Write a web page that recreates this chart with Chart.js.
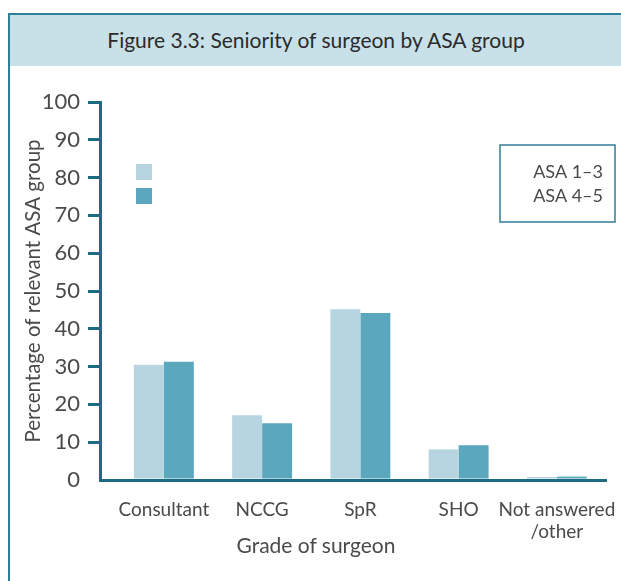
<!DOCTYPE html>
<html>
<head>
<meta charset="utf-8">
<script src="https://cdn.jsdelivr.net/npm/chart.js@4.4.1/dist/chart.umd.min.js"></script>
<style>
  html, body { margin: 0; padding: 0; background: #fff; }
  body { width: 621px; height: 581px; position: relative; overflow: hidden; font-family: Lato, "Open Sans", sans-serif; }
  .frame { position: absolute; left: 8px; top: 13px; width: 640px; height: 600px; border-left: 2px solid #2f7f96; }
  .title-band { position: absolute; left: 8px; top: 13px; width: 640px; height: 51px; background: #c8e0e7; border-top: 2px solid #2f7f96; border-left: 2px solid #2f7f96; }
  .title { position: absolute; left: 0; top: 27px; width: 632px; text-align: center; font-size: 21px; color: #2b2b2b; }
  .xtitle { position: absolute; left: 0; top: 532px; width: 632px; text-align: center; font-size: 21px; color: #4a4a4a; }
  #wrap { position: absolute; left: 0; top: 0; width: 621px; height: 581px; }
</style>
</head>
<body>
<div class="frame"></div>
<div class="title-band"></div>
<div class="title">Figure 3.3: Seniority of surgeon by ASA group</div>
<div id="wrap"><canvas id="chart"></canvas></div>
<div class="xtitle">Grade of surgeon</div>
<script>
// data
const categories = ['Consultant', 'NCCG', 'SpR', 'SHO', ['Not answered', '/other']];
const seriesNames = ['ASA 1\u20133', 'ASA 4\u20135'];
const asa13 = [30.5, 17.1, 45.2, 8.1, 0.8];
const asa45 = [31.3, 15.0, 44.2, 9.2, 0.9];
const yTicks = [0, 10, 20, 30, 40, 50, 60, 70, 80, 90, 100];

const lightBlue = '#b6d5e0';
const darkBlue = '#5ba7bd';
const axisColor = '#1b6b82';
const textColor = '#4a4a4a';

// legend as in the original: squares sit apart from the boxed labels
const oddLegend = {
    id: 'oddLegend',
    afterDraw(chart) {
        const { ctx, chartArea } = chart;
        const ds = chart.data.datasets;
        ctx.save();
        // boxed labels on the right
        const bx = chartArea.right - 106, by = chartArea.top + 43, bw = 115, bh = 77;
        ctx.strokeStyle = '#2f7f96';
        ctx.lineWidth = 1.5;
        ctx.strokeRect(bx, by, bw, bh);
        ctx.fillStyle = textColor;
        ctx.font = '18px Lato, "Open Sans", sans-serif';
        ctx.textAlign = 'right';
        ctx.textBaseline = 'middle';
        ds.forEach((d, i) => {
            ctx.fillText(d.label, bx + bw - 12, by + 27 + i * 24);
        });
        // colour squares near the top left of the plot
        ds.forEach((d, i) => {
            ctx.fillStyle = d.backgroundColor;
            ctx.fillRect(chartArea.left + 36, chartArea.top + 62 + i * 24, 16, 16);
        });
        ctx.restore();
    }
};

new Chart(document.getElementById('chart'), {
    type: 'bar',
    data: {
        datasets: [
            { label: seriesNames[0], data: asa13.map((v, i) => ({ x: i, y: v })), backgroundColor: lightBlue },
            { label: seriesNames[1], data: asa45.map((v, i) => ({ x: i, y: v })), backgroundColor: darkBlue }
        ]
    },
    options: {
        responsive: true,
        maintainAspectRatio: false,
        animation: false,
        categoryPercentage: 0.61,
        barPercentage: 1,
        layout: { autoPadding: false, padding: { top: 102, right: 15, bottom: 0, left: 0 } },
        plugins: {
            legend: { display: false },
            tooltip: { enabled: false }
        },
        scales: {
            x: {
                type: 'linear',
                offset: false,
                min: -0.65,
                max: 4.5,
                afterBuildTicks: s => { s.ticks = categories.map((c, i) => ({ value: i })); },
                afterFit: s => { s.height = 101; s.paddingLeft = 0; s.paddingRight = 0; },
                grid: { display: false },
                border: { display: true, color: axisColor, width: 3 },
                ticks: {
                    autoSkip: false,
                    maxRotation: 0,
                    padding: 11,
                    color: textColor,
                    font: { family: 'Lato', size: 19, lineHeight: 1.15 },
                    callback: v => categories[v]
                }
            },
            y: {
                min: 0,
                max: 100,
                afterBuildTicks: s => { s.ticks = yTicks.map(v => ({ value: v })); },
                afterFit: s => { s.width = 100; },
                grid: {
                    drawOnChartArea: false,
                    drawTicks: true,
                    tickLength: 12,
                    lineWidth: 3,
                    color: c => c.tick && c.tick.value === 0 ? 'rgba(0,0,0,0)' : axisColor
                },
                border: { display: true, color: axisColor, width: 3 },
                ticks: {
                    padding: 8,
                    color: textColor,
                    font: { family: 'Lato', size: 22 }
                },
                title: {
                    display: true,
                    text: 'Percentage of relevant ASA group',
                    color: textColor,
                    font: { family: 'Lato', size: 20.5 },
                    padding: { top: 21, bottom: 0 }
                }
            }
        }
    },
    plugins: [oddLegend]
});
</script>
</body>
</html>
